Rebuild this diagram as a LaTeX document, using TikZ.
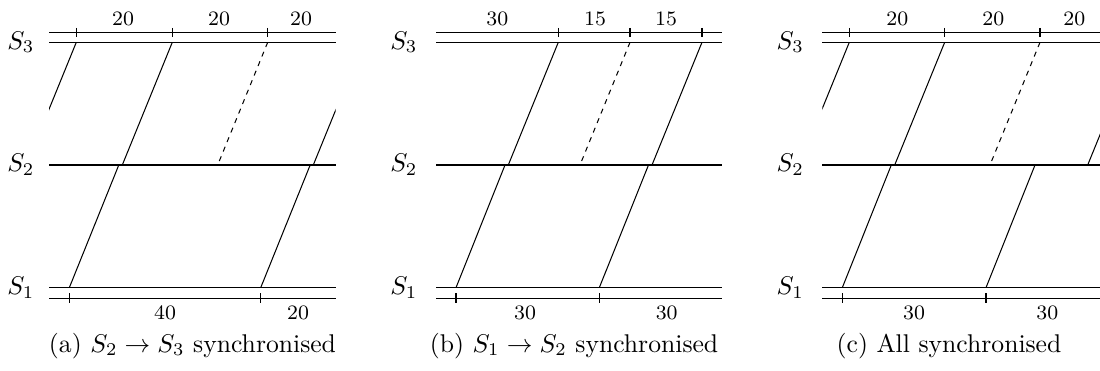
\documentclass[tikz,border=0pt]{standalone}
\begin{document}
\begin{tikzpicture}[x=0.39pt,y=-0.39pt,
  axis/.style={line width=0.4pt},
  tickmark/.style={line width=0.4pt},
  msg/.style={line width=0.4pt},
  lostmsg/.style={line width=0.4pt,dash pattern=on 2pt off 2pt},
  numlbl/.style={font=\footnotesize,inner sep=0pt,anchor=center},
  srvlbl/.style={anchor=east,inner sep=0pt},
  caplbl/.style={anchor=base,inner sep=0pt}]
\useasboundingbox (0,0) rectangle (1100,371);
% ---------- common heights ----------
\def\yT{32.3}\def\yC{42.3}\def\yB{165}\def\yA{287.7}\def\yX{298.3}
% ======================= panel (a) =======================
\def\xl{49}\def\xr{335.7}
\draw[axis] (\xl,\yT) -- (\xr,\yT);
\draw[axis] (\xl,\yC) -- (\xr,\yC);
\draw[axis] (\xl,\yB) -- (\xr,\yB);
\draw[axis] (\xl,\yA) -- (\xr,\yA);
\draw[axis] (\xl,\yX) -- (\xr,\yX);
\foreach \t in {76.3,172.3,267.7} \draw[tickmark] (\t,\yT-4.5) -- (\t,\yT+4.5);
\foreach \t in {69.3,260.7} \draw[tickmark] (\t,\yX-5) -- (\t,\yX+5);
\node[numlbl] (a-t1) at (123,19) {20};
\node[numlbl] (a-t2) at (219,19) {20};
\node[numlbl] (a-t3) at (301,19) {20};
\node[numlbl] (a-b1) at (165,313) {40};
\node[numlbl] (a-b2) at (298,313) {20};
\node[srvlbl] (a-s3) at (\xl-14,\yC) {$S_3$};
\node[srvlbl] (a-s2) at (\xl-14,\yB) {$S_2$};
\node[srvlbl] (a-s1) at (\xl-14,\yA) {$S_1$};
\coordinate (a-u1t) at (76.3,\yC);  \coordinate (a-u1b) at (26.3,\yB);
\coordinate (a-u2t) at (172.3,\yC); \coordinate (a-u2b) at (122.3,\yB);
\coordinate (a-u3t) at (267.7,\yC); \coordinate (a-u3b) at (217.7,\yB);
\coordinate (a-u4t) at (363.3,\yC); \coordinate (a-u4b) at (313.3,\yB);
\coordinate (a-l1b) at (69.3,\yA);  \coordinate (a-l1t) at (118.8,\yB);
\coordinate (a-l2b) at (260.7,\yA); \coordinate (a-l2t) at (310.2,\yB);
\begin{scope}
\clip (\xl,0) rectangle (\xr,371);
\draw[msg] (a-u1t) -- (a-u1b);
\draw[msg] (a-u2t) -- (a-u2b);
\draw[lostmsg] (a-u3t) -- (a-u3b);
\draw[msg] (a-u4t) -- (a-u4b);
\draw[msg] (a-l1b) -- (a-l1t);
\draw[msg] (a-l2b) -- (a-l2t);
\end{scope}
\node[caplbl] (a-cap) at (192.5,352) {(a) $S_2\rightarrow S_3$ synchronised};
% ======================= panel (b) =======================
\def\xl{436}\def\xr{721.7}
\draw[axis] (\xl,\yT) -- (\xr,\yT);
\draw[axis] (\xl,\yC) -- (\xr,\yC);
\draw[axis] (\xl,\yB) -- (\xr,\yB);
\draw[axis] (\xl,\yA) -- (\xr,\yA);
\draw[axis] (\xl,\yX) -- (\xr,\yX);
\foreach \t in {558.3,630,702} \draw[tickmark] (\t,\yT-4.5) -- (\t,\yT+4.5);
\foreach \t in {456,599.3} \draw[tickmark] (\t,\yX-5) -- (\t,\yX+5);
\node[numlbl] (b-t1) at (497.3,19) {30};
\node[numlbl] (b-t2) at (595,19) {15};
\node[numlbl] (b-t3) at (666,19) {15};
\node[numlbl] (b-b1) at (525,313) {30};
\node[numlbl] (b-b2) at (666.7,313) {30};
\node[srvlbl] (b-s3) at (\xl-18,\yC) {$S_3$};
\node[srvlbl] (b-s2) at (\xl-18,\yB) {$S_2$};
\node[srvlbl] (b-s1) at (\xl-18,\yA) {$S_1$};
\coordinate (b-u1t) at (558.3,\yC); \coordinate (b-u1b) at (508.3,\yB);
\coordinate (b-u2t) at (630,\yC);   \coordinate (b-u2b) at (580,\yB);
\coordinate (b-u3t) at (702,\yC);   \coordinate (b-u3b) at (652,\yB);
\coordinate (b-l1b) at (456,\yA);   \coordinate (b-l1t) at (505,\yB);
\coordinate (b-l2b) at (599.3,\yA); \coordinate (b-l2t) at (648.5,\yB);
\draw[msg] (b-u1t) -- (b-u1b);
\draw[lostmsg] (b-u2t) -- (b-u2b);
\draw[msg] (b-u3t) -- (b-u3b);
\draw[msg] (b-l1b) -- (b-l1t);
\draw[msg] (b-l2b) -- (b-l2t);
\node[caplbl] (b-cap) at (574,352) {(b) $S_1\rightarrow S_2$ synchronised};
% ======================= panel (c) =======================
\def\xl{822.3}\def\xr{1100}
\draw[axis] (\xl,\yT) -- (\xr,\yT);
\draw[axis] (\xl,\yC) -- (\xr,\yC);
\draw[axis] (\xl,\yB) -- (\xr,\yB);
\draw[axis] (\xl,\yA) -- (\xr,\yA);
\draw[axis] (\xl,\yX) -- (\xr,\yX);
\foreach \t in {849.3,944.7,1040} \draw[tickmark] (\t,\yT-4.5) -- (\t,\yT+4.5);
\foreach \t in {842.3,986} \draw[tickmark] (\t,\yX-5) -- (\t,\yX+5);
\node[numlbl] (c-t1) at (897.3,19) {20};
\node[numlbl] (c-t2) at (993.3,19) {20};
\node[numlbl] (c-t3) at (1074.3,19) {20};
\node[numlbl] (c-b1) at (914,313) {30};
\node[numlbl] (c-b2) at (1047.3,313) {30};
\node[srvlbl] (c-s3) at (\xl-18,\yC) {$S_3$};
\node[srvlbl] (c-s2) at (\xl-18,\yB) {$S_2$};
\node[srvlbl] (c-s1) at (\xl-18,\yA) {$S_1$};
\coordinate (c-u1t) at (849.3,\yC);  \coordinate (c-u1b) at (799.3,\yB);
\coordinate (c-u2t) at (944.7,\yC);  \coordinate (c-u2b) at (894.7,\yB);
\coordinate (c-u3t) at (1040,\yC);   \coordinate (c-u3b) at (990,\yB);
\coordinate (c-u4t) at (1137.7,\yC); \coordinate (c-u4b) at (1087.7,\yB);
\coordinate (c-l1b) at (842.3,\yA);  \coordinate (c-l1t) at (891.3,\yB);
\coordinate (c-l2b) at (986,\yA);    \coordinate (c-l2t) at (1035,\yB);
\begin{scope}
\clip (\xl,0) rectangle (\xr,371);
\draw[msg] (c-u1t) -- (c-u1b);
\draw[msg] (c-u2t) -- (c-u2b);
\draw[lostmsg] (c-u3t) -- (c-u3b);
\draw[msg] (c-u4t) -- (c-u4b);
\draw[msg] (c-l1b) -- (c-l1t);
\draw[msg] (c-l2b) -- (c-l2t);
\end{scope}
\node[caplbl] (c-cap) at (949,352) {(c) All synchronised};
\end{tikzpicture}
\end{document}
